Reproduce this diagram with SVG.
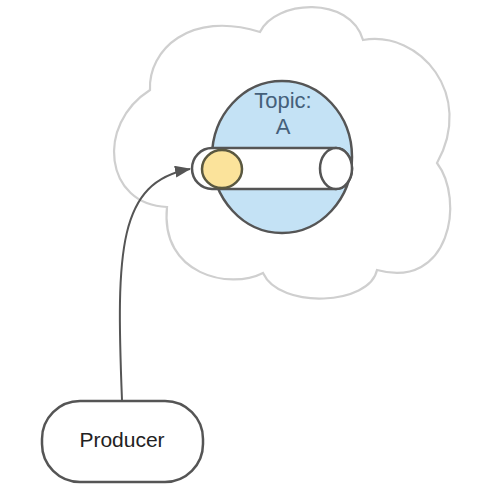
<svg xmlns="http://www.w3.org/2000/svg" width="490" height="486" viewBox="0 0 490 486">
<style>
.cloud{fill:#ffffff;stroke:#cfcfcf;stroke-width:2.2}
.edge{fill:none;stroke:#555555;stroke-width:2}
.dark{stroke:#555555;stroke-width:2.5}
.lbl{font-family:"Liberation Sans",Arial,sans-serif;text-anchor:middle}
</style>
<defs>
<marker id="arr" markerUnits="userSpaceOnUse" markerWidth="16" markerHeight="12" refX="15" refY="6" orient="auto">
<path d="M0,0 L16,6 L0,12 Z" fill="#555555"/>
</marker>
</defs>
<rect width="490" height="486" fill="#ffffff"/>
<g id="cloud">
<path class="cloud" d="M150 90 C148 50 190 10 260 32 C275 0 350 -5 363 40 C420 30 475 95 437 163 C465 200 450 290 377 270 C370 305 280 310 263 273 C230 290 160 275 167 207 C105 205 95 125 150 90 Z"/>
</g>
<g id="topic">
<ellipse cx="282" cy="157" rx="70" ry="76" fill="#c4e2f5" class="dark"/>
<text class="lbl" x="283" y="108" font-size="22" fill="#45607a">Topic:</text>
<text class="lbl" x="283" y="134" font-size="22" fill="#45607a">A</text>
</g>
<g id="partition">
<path d="M212 148 L336 148 A16 20.5 0 0 1 336 189 L212 189 A20 20.5 0 0 1 212 148 Z" fill="#ffffff" class="dark"/>
<ellipse cx="336" cy="168.5" rx="16" ry="20.5" fill="#ffffff" class="dark"/>
<ellipse cx="222" cy="169" rx="20" ry="19" fill="#fbe39b" stroke="#5a5840" stroke-width="2.5"/>
</g>
<g id="producer">
<rect x="42" y="401" width="161" height="81" rx="38" ry="38" fill="#ffffff" class="dark"/>
<text class="lbl" x="122" y="447" font-size="21" fill="#222222">Producer</text>
</g>
<g id="connectors">
<path class="edge" d="M122 400 C116 250 118 182 190 169" marker-end="url(#arr)"/>
</g>
</svg>
